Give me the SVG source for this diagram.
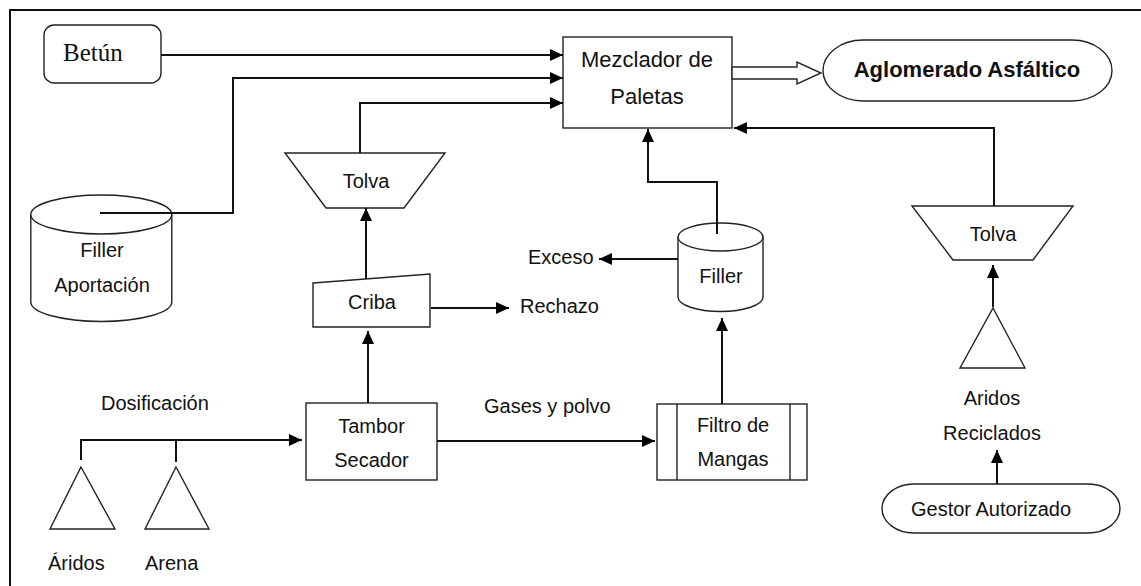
<svg xmlns="http://www.w3.org/2000/svg" width="1141" height="586" viewBox="0 0 1141 586">
<style>
.s{fill:#fff;stroke:#222;stroke-width:1.4}
.c{fill:none;stroke:#111;stroke-width:2}
.t{font-family:"Liberation Sans",Arial,sans-serif;font-size:20px;fill:#111}
.m{text-anchor:middle}
</style>
<defs>
<marker id="a" markerUnits="userSpaceOnUse" markerWidth="14" markerHeight="12" refX="13" refY="6" orient="auto">
<path d="M0,0 L13,6 L0,12 z" fill="#000"/>
</marker>
</defs>
<rect width="1141" height="586" fill="#fff"/>
<path d="M10,586 V10 H1141" fill="none" stroke="#111" stroke-width="2"/>

<g id="betun">
<rect class="s" x="44" y="25" width="117" height="58" rx="10"/>
<text x="63" y="61" style="font-family:'Liberation Serif','Times New Roman',serif;font-size:25px;fill:#111">Betún</text>
</g>
<g id="mezclador">
<rect class="s" x="563" y="37" width="169" height="91"/>
<text class="t m" x="647" y="67" style="font-size:22px">Mezclador de</text>
<text class="t m" x="647" y="104" style="font-size:22px">Paletas</text>
</g>
<g id="aglomerado">
<rect class="s" x="823" y="40" width="289" height="61" rx="40" ry="30.5"/>
<text class="t m" x="967" y="77" style="font-size:22px;font-weight:bold">Aglomerado Asfáltico</text>
</g>
<g id="filler-aportacion">
<path class="s" d="M30.8,214.5 V302 A70.5,19.5 0 0 0 171.8,302 V214.5"/>
<ellipse class="s" cx="101.3" cy="214.5" rx="70.5" ry="19.5"/>
<text class="t m" x="102" y="257">Filler</text>
<text class="t m" x="102" y="292">Aportación</text>
</g>
<g id="tolva1">
<polygon class="s" points="285,153 445,153 404,208 326,208"/>
<text class="t m" x="366" y="188">Tolva</text>
</g>
<g id="criba">
<polygon class="s" points="313,283 430,274 430,327 313,327"/>
<text class="t m" x="372" y="309">Criba</text>
</g>
<g id="rechazo"><text class="t" x="520" y="313">Rechazo</text></g>
<g id="exceso"><text class="t" x="528" y="264">Exceso</text></g>
<g id="filler">
<path class="s" d="M678,237 V297 A42.5,14.5 0 0 0 763,297 V237"/>
<ellipse class="s" cx="720.5" cy="237" rx="42.5" ry="14"/>
<text class="t m" x="721" y="283">Filler</text>
</g>
<g id="tolva2">
<polygon class="s" points="912,206 1073,206 1033,260 953,260"/>
<text class="t m" x="993" y="241">Tolva</text>
</g>
<g id="aridos-reciclados">
<polygon class="s" points="993,308 1025,368 960,368"/>
<text class="t m" x="992" y="405">Aridos</text>
<text class="t m" x="992" y="440">Reciclados</text>
</g>
<g id="gestor">
<rect class="s" x="882" y="484" width="238" height="49" rx="32" ry="24.5"/>
<text class="t m" x="991" y="516">Gestor Autorizado</text>
</g>
<g id="tambor">
<rect class="s" x="306" y="403" width="131" height="77"/>
<text class="t m" x="371.5" y="433">Tambor</text>
<text class="t m" x="371.5" y="467">Secador</text>
</g>
<g id="filtro">
<rect class="s" x="657" y="404" width="150" height="76"/>
<line class="s" x1="677" y1="404" x2="677" y2="480"/>
<line class="s" x1="790" y1="404" x2="790" y2="480"/>
<text class="t m" x="733" y="432">Filtro de</text>
<text class="t m" x="733" y="466">Mangas</text>
</g>
<g id="dosificacion"><text class="t" x="101" y="410">Dosificación</text></g>
<g id="gases"><text class="t" x="484" y="413">Gases y polvo</text></g>
<g id="aridos">
<polygon class="s" points="81,467 115,529 50,529"/>
<text class="t" x="48" y="570">Áridos</text>
</g>
<g id="arena">
<polygon class="s" points="176,467 209,529 145,529"/>
<text class="t" x="145" y="570">Arena</text>
</g>

<g id="connectors">
<path class="c" d="M161,55 H563" marker-end="url(#a)"/>
<path class="c" d="M100,213 H233 V78 H563" marker-end="url(#a)"/>
<path class="c" d="M360,153 V103 H563" marker-end="url(#a)"/>
<path class="c" d="M994,206 V128 H734" marker-end="url(#a)"/>
<path class="c" d="M717,234 V182 H648 V129" marker-end="url(#a)"/>
<path class="c" d="M366,279 V208" marker-end="url(#a)"/>
<path class="c" d="M368,403 V331" marker-end="url(#a)"/>
<path class="c" d="M431,308 H509" marker-end="url(#a)"/>
<path class="c" d="M678,259 H599" marker-end="url(#a)"/>
<path class="c" d="M722,404 V318" marker-end="url(#a)"/>
<path class="c" d="M993,307 V265" marker-end="url(#a)"/>
<path class="c" d="M997,484 V450" marker-end="url(#a)"/>
<path class="c" d="M81,460 V440 H302" marker-end="url(#a)"/>
<path class="c" d="M176,441 V462"/>
<path class="c" d="M437,441 H655" marker-end="url(#a)"/>
<polygon points="732,67 797,67 797,62 821,73 797,84 797,79 732,79" fill="#fff" stroke="#222" stroke-width="1.4"/>
</g>
</svg>
